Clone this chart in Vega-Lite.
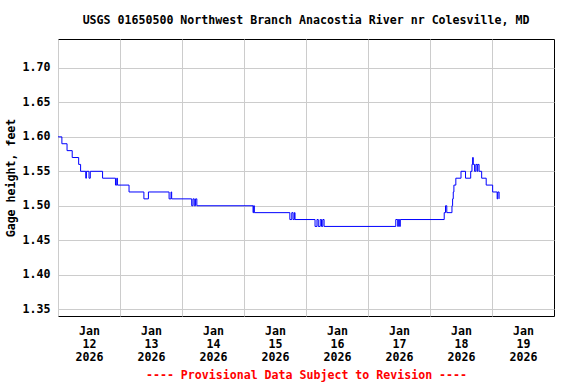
{
  "$schema": "https://vega.github.io/schema/vega-lite/v6.json",
  "width": 496,
  "height": 277,
  "autosize": "none",
  "padding": {"left": 58, "top": 39, "right": 22, "bottom": 68},
  "background": "white",
  "config": {
    "view": {"stroke": "black", "strokeWidth": 1},
    "font": "DejaVu Sans Mono"
  },
  "title": {
    "text": "USGS 01650500 Northwest Branch Anacostia River nr Colesville, MD",
    "font": "DejaVu Sans Mono",
    "fontSize": 11.6,
    "fontWeight": "bold",
    "color": "black",
    "anchor": "middle",
    "offset": 12
  },
  "data": {
    "values": [
      {"t": "2026-01-12T00:00:00Z", "v": 1.60},
      {"t": "2026-01-12T01:30:00Z", "v": 1.59},
      {"t": "2026-01-12T03:30:00Z", "v": 1.58},
      {"t": "2026-01-12T05:30:00Z", "v": 1.57},
      {"t": "2026-01-12T08:00:00Z", "v": 1.56},
      {"t": "2026-01-12T08:45:00Z", "v": 1.55},
      {"t": "2026-01-12T10:45:00Z", "v": 1.54},
      {"t": "2026-01-12T11:00:00Z", "v": 1.55},
      {"t": "2026-01-12T12:00:00Z", "v": 1.54},
      {"t": "2026-01-12T12:30:00Z", "v": 1.55},
      {"t": "2026-01-12T17:15:00Z", "v": 1.54},
      {"t": "2026-01-12T22:15:00Z", "v": 1.53},
      {"t": "2026-01-12T22:45:00Z", "v": 1.54},
      {"t": "2026-01-12T23:00:00Z", "v": 1.53},
      {"t": "2026-01-13T03:30:00Z", "v": 1.52},
      {"t": "2026-01-13T09:15:00Z", "v": 1.51},
      {"t": "2026-01-13T11:00:00Z", "v": 1.52},
      {"t": "2026-01-13T19:00:00Z", "v": 1.51},
      {"t": "2026-01-13T19:45:00Z", "v": 1.52},
      {"t": "2026-01-13T20:00:00Z", "v": 1.51},
      {"t": "2026-01-14T03:45:00Z", "v": 1.50},
      {"t": "2026-01-14T04:15:00Z", "v": 1.51},
      {"t": "2026-01-14T04:45:00Z", "v": 1.50},
      {"t": "2026-01-14T05:15:00Z", "v": 1.51},
      {"t": "2026-01-14T05:45:00Z", "v": 1.50},
      {"t": "2026-01-15T03:30:00Z", "v": 1.49},
      {"t": "2026-01-15T03:45:00Z", "v": 1.50},
      {"t": "2026-01-15T04:00:00Z", "v": 1.49},
      {"t": "2026-01-15T17:45:00Z", "v": 1.48},
      {"t": "2026-01-15T18:30:00Z", "v": 1.49},
      {"t": "2026-01-15T19:00:00Z", "v": 1.48},
      {"t": "2026-01-15T19:30:00Z", "v": 1.49},
      {"t": "2026-01-15T19:45:00Z", "v": 1.48},
      {"t": "2026-01-16T03:30:00Z", "v": 1.47},
      {"t": "2026-01-16T04:15:00Z", "v": 1.48},
      {"t": "2026-01-16T04:45:00Z", "v": 1.47},
      {"t": "2026-01-16T05:30:00Z", "v": 1.48},
      {"t": "2026-01-16T06:00:00Z", "v": 1.47},
      {"t": "2026-01-16T06:30:00Z", "v": 1.48},
      {"t": "2026-01-16T07:00:00Z", "v": 1.47},
      {"t": "2026-01-17T10:45:00Z", "v": 1.48},
      {"t": "2026-01-17T11:30:00Z", "v": 1.47},
      {"t": "2026-01-17T11:45:00Z", "v": 1.48},
      {"t": "2026-01-17T12:15:00Z", "v": 1.47},
      {"t": "2026-01-17T12:30:00Z", "v": 1.48},
      {"t": "2026-01-18T05:30:00Z", "v": 1.49},
      {"t": "2026-01-18T06:00:00Z", "v": 1.50},
      {"t": "2026-01-18T06:30:00Z", "v": 1.49},
      {"t": "2026-01-18T08:30:00Z", "v": 1.50},
      {"t": "2026-01-18T08:45:00Z", "v": 1.51},
      {"t": "2026-01-18T09:00:00Z", "v": 1.52},
      {"t": "2026-01-18T09:15:00Z", "v": 1.53},
      {"t": "2026-01-18T10:00:00Z", "v": 1.54},
      {"t": "2026-01-18T12:00:00Z", "v": 1.55},
      {"t": "2026-01-18T13:45:00Z", "v": 1.54},
      {"t": "2026-01-18T15:45:00Z", "v": 1.55},
      {"t": "2026-01-18T16:15:00Z", "v": 1.56},
      {"t": "2026-01-18T16:30:00Z", "v": 1.57},
      {"t": "2026-01-18T16:45:00Z", "v": 1.56},
      {"t": "2026-01-18T17:15:00Z", "v": 1.55},
      {"t": "2026-01-18T17:45:00Z", "v": 1.56},
      {"t": "2026-01-18T18:15:00Z", "v": 1.55},
      {"t": "2026-01-18T18:30:00Z", "v": 1.56},
      {"t": "2026-01-18T19:00:00Z", "v": 1.55},
      {"t": "2026-01-18T20:00:00Z", "v": 1.54},
      {"t": "2026-01-18T21:45:00Z", "v": 1.53},
      {"t": "2026-01-19T00:15:00Z", "v": 1.52},
      {"t": "2026-01-19T02:00:00Z", "v": 1.51},
      {"t": "2026-01-19T02:15:00Z", "v": 1.52},
      {"t": "2026-01-19T02:45:00Z", "v": 1.51}
    ]
  },
  "mark": {"type": "line", "interpolate": "step-after", "color": "#0000ff", "strokeWidth": 1},
  "encoding": {
    "x": {
      "field": "t",
      "type": "temporal",
      "scale": {
        "type": "utc",
        "domain": [
          {"year": 2026, "month": 1, "date": 12, "utc": true},
          {"year": 2026, "month": 1, "date": 20, "utc": true}
        ]
      },
      "axis": {
        "values": [
          {"year": 2026, "month": 1, "date": 12, "utc": true},
          {"year": 2026, "month": 1, "date": 13, "utc": true},
          {"year": 2026, "month": 1, "date": 14, "utc": true},
          {"year": 2026, "month": 1, "date": 15, "utc": true},
          {"year": 2026, "month": 1, "date": 16, "utc": true},
          {"year": 2026, "month": 1, "date": 17, "utc": true},
          {"year": 2026, "month": 1, "date": 18, "utc": true},
          {"year": 2026, "month": 1, "date": 19, "utc": true}
        ],
        "labelExpr": "[utcFormat(datum.value, '%b'), utcFormat(datum.value, '%d'), utcFormat(datum.value, '%Y')]",
        "labelOffset": 31,
        "labelOverlap": false,
        "labelFlush": false,
        "labelBound": false,
        "ticks": false,
        "domain": false,
        "grid": true,
        "gridColor": "#cccccc",
        "gridWidth": 1,
        "gridOpacity": 1,
        "labelFont": "DejaVu Sans Mono",
        "labelFontSize": 11.6,
        "labelFontWeight": "bold",
        "labelColor": "black",
        "labelLineHeight": 13,
        "labelBaseline": "top",
        "labelPadding": 9,
        "title": "---- Provisional Data Subject to Revision ----",
        "titleFont": "DejaVu Sans Mono",
        "titleFontSize": 11.6,
        "titleFontWeight": "bold",
        "titleColor": "red",
        "titlePadding": 7
      }
    },
    "y": {
      "field": "v",
      "type": "quantitative",
      "scale": {"domain": [1.34, 1.742], "nice": false, "zero": false},
      "axis": {
        "values": [1.35, 1.40, 1.45, 1.50, 1.55, 1.60, 1.65, 1.70],
        "format": ".2f",
        "ticks": false,
        "domain": false,
        "grid": true,
        "gridColor": "#cccccc",
        "gridWidth": 1,
        "gridOpacity": 1,
        "labelFont": "DejaVu Sans Mono",
        "labelFontSize": 11.6,
        "labelFontWeight": "bold",
        "labelColor": "black",
        "labelPadding": 8,
        "title": "Gage height, feet",
        "titleFont": "DejaVu Sans Mono",
        "titleFontSize": 11.6,
        "titleFontWeight": "bold",
        "titleColor": "black",
        "titlePadding": 6
      }
    }
  }
}
